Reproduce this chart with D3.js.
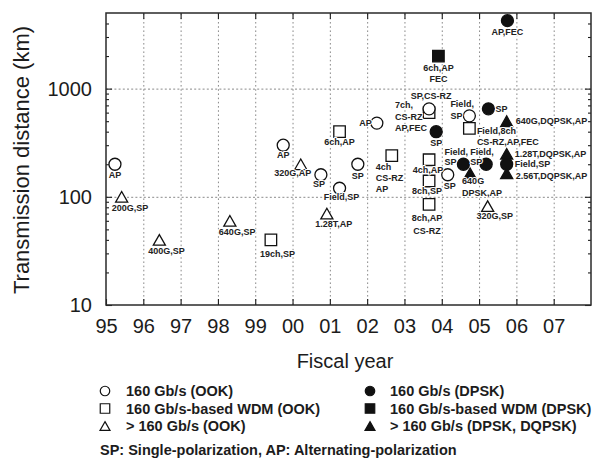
<!DOCTYPE html>
<html><head><meta charset="utf-8">
<script src="https://cdn.jsdelivr.net/npm/d3@7"></script>
<style>body{margin:0;background:#fff}svg{display:block}</style>
</head><body>
<svg id="c" width="600" height="459"></svg>
<script>
// ---------- data ----------
const yearTicks  = [1995,1996,1997,1998,1999,2000,2001,2002,2003,2004,2005,2006,2007];
const yearLabels = ["95","96","97","98","99","00","01","02","03","04","05","06","07"];
const kmTicks    = [10,100,1000];

// [fiscal year, distance km, label lines]
const ookSingle = [
  [1995.24, 200, ["AP"]],
  [1999.75, 300, ["AP"]],
  [2000.76, 160, ["SP"]],
  [2001.26, 120, ["Field,SP"]],
  [2001.75, 200, ["SP"]],
  [2002.26, 480, ["AP"]],
  [2003.66, 650, ["SP,CS-RZ"]],
  [2004.74, 560, ["Field,","SP"]],
  [2004.16, 160, ["SP"]]
];
const ookWdm = [
  [1999.42, 40,  ["19ch,SP"]],
  [2001.26, 400, ["6ch,AP"]],
  [2002.66, 240, ["4ch","CS-RZ","AP"]],
  [2003.66, 600, ["7ch,","CS-RZ","AP,FEC"]],
  [2003.66, 220, ["4ch,AP"]],
  [2003.66, 140, ["8ch,SP"]],
  [2003.66, 85,  ["8ch,AP","CS-RZ"]],
  [2004.74, 430, ["Field,8ch","CS-RZ,AP,FEC"]]
];
const ookHigh = [
  [1995.42, 100, ["200G,SP"]],
  [1996.43, 40,  ["400G,SP"]],
  [1998.32, 60,  ["640G,SP"]],
  [2000.22, 200, ["320G,AP"]],
  [2000.92, 70,  ["1.28T,AP"]],
  [2005.23, 82,  ["320G,SP"]]
];
const dpskSingle = [
  [2005.76, 4250, ["AP,FEC"]],
  [2003.85, 400,  ["SP"]],
  [2005.25, 650,  ["SP"]],
  [2004.58, 200,  ["Field,","SP"]],
  [2005.19, 200,  ["Field,","SP"]],
  [2005.74, 200,  ["Field,SP"]]
];
const dpskWdm = [
  [2003.91, 2000, ["6ch,AP","FEC"]]
];
const dpskHigh = [
  [2005.74, 500, ["640G,DQPSK,AP"]],
  [2005.74, 250, ["1.28T,DQPSK,AP"]],
  [2005.74, 165, ["2.56T,DQPSK,AP"]],
  [2004.76, 165, ["640G","DPSK,AP"]]
];

const legendLabels = [
  "160 Gb/s (OOK)", "160 Gb/s-based WDM (OOK)", "> 160 Gb/s (OOK)",
  "160 Gb/s (DPSK)", "160 Gb/s-based WDM (DPSK)", "> 160 Gb/s (DPSK, DQPSK)"
];
const footnote = "SP: Single-polarization, AP: Alternating-polarization";

// ---------- label placement (anchor, dx, dy, line height) ----------
const place = {
  ookSingle: [["middle",0,14,11],["middle",0,13,11],["middle",-2,12,11],["middle",2,12,11],["middle",0,15,11],
              ["end",-5,3,11],["middle",2,-10,11],["start",-19,-9,12],["middle",2,14,11]],
  ookWdm: [["start",-11,17,11],["middle",0,13,11],["start",-16,14,11],["start",-34,-4.5,11.5],
           ["middle",-1,13,11],["middle",-2,12.5,11],["middle",-2,17,12.5],["start",7.5,6,11]],
  ookHigh: [["start",-10,14,11],["start",-11,14,11],["start",-11,14,11],["middle",-8,12,11],["middle",7,13,11],["middle",7,13,11]],
  dpskSingle: [["middle",0,14,11],["middle",0,14,11],["start",7,3,11],["start",-19,-9,10],["start",-16,-9,10],["start",8,3,11]],
  dpskWdm: [["middle",0,15,11]],
  dpskHigh: [["start",9,3,11],["start",8,3,11],["start",9,6,11],["start",-8,11,12]]
};

// ---------- chart ----------
const svg = d3.select("#c");
const L = 106, R = 591, T = 13, B = 305;
const x = d3.scaleLinear().domain([1995, 2008]).range([L, R]);
const y = d3.scaleLog().domain([10, 5000]).range([B, T]);
const font = "'Liberation Sans', Arial, Helvetica, sans-serif";
const ink = "#1c1c1c";

// grid
const gx = svg.append("g").attr("transform", `translate(0,${B})`)
  .call(d3.axisBottom(x).tickValues(yearTicks.slice(1)).tickSize(-(B - T)).tickFormat(""));
gx.select(".domain").remove();
gx.selectAll("line").attr("stroke", "#8a8a8a").attr("stroke-dasharray", "1.6,2.6");
const gy = svg.append("g").attr("transform", `translate(${L},0)`)
  .call(d3.axisLeft(y).tickValues([100, 1000]).tickSize(-(R - L)).tickFormat(""));
gy.select(".domain").remove();
gy.selectAll("line").attr("stroke", "#8a8a8a").attr("stroke-dasharray", "2,2.2");

// minor log ticks
const minor = [];
[10, 100, 1000].forEach(d => { for (let k = 2; k <= 9; k++) if (d * k < 5000) minor.push(d * k); });

function styleAxis(g) {
  g.select(".domain").remove();
  g.selectAll("line").attr("stroke", ink).attr("stroke-width", 1.1);
  g.selectAll("text").attr("font-family", font).attr("fill", ink);
}

// bottom axis with labels
svg.append("g").attr("transform", `translate(0,${B})`)
  .call(d3.axisBottom(x).tickValues(yearTicks).tickFormat((d, i) => yearLabels[i])
        .tickSizeInner(-6).tickSizeOuter(0).tickPadding(14))
  .call(styleAxis).selectAll("text").attr("font-size", 20);
// top ticks
svg.append("g").attr("transform", `translate(0,${T})`)
  .call(d3.axisTop(x).tickValues(yearTicks.slice(1)).tickFormat("").tickSizeInner(-6).tickSizeOuter(0))
  .call(styleAxis);
// left axis
svg.append("g").attr("transform", `translate(${L},0)`)
  .call(d3.axisLeft(y).tickValues(kmTicks).tickFormat(d3.format("d"))
        .tickSizeInner(-6).tickSizeOuter(0).tickPadding(14))
  .call(styleAxis).selectAll("text").attr("font-size", 20);
svg.append("g").attr("transform", `translate(${L},0)`)
  .call(d3.axisLeft(y).tickValues(minor).tickFormat("").tickSizeInner(-3).tickSizeOuter(0))
  .call(styleAxis);
// right axis
svg.append("g").attr("transform", `translate(${R},0)`)
  .call(d3.axisRight(y).tickValues(kmTicks).tickFormat("").tickSizeInner(-6).tickSizeOuter(0))
  .call(styleAxis);
svg.append("g").attr("transform", `translate(${R},0)`)
  .call(d3.axisRight(y).tickValues(minor).tickFormat("").tickSizeInner(-3).tickSizeOuter(0))
  .call(styleAxis);

// frame
svg.append("rect").attr("x", L).attr("y", T).attr("width", R - L).attr("height", B - T)
  .attr("fill", "none").attr("stroke", "#2a2a2a").attr("stroke-width", 1.5);

// axis titles
svg.append("text").attr("x", 345).attr("y", 367.5).attr("text-anchor", "middle")
  .attr("font-family", font).attr("font-size", 20).attr("fill", ink).text("Fiscal year");
svg.append("text").attr("transform", "translate(29,160) rotate(-90)").attr("text-anchor", "middle")
  .attr("font-family", font).attr("font-size", 22).attr("fill", ink).text("Transmission distance (km)");

// markers
function markerPath(shape, s) {
  if (shape === "circle") return d3.symbol().type(d3.symbolCircle).size(Math.PI * s * s / 4)();
  if (shape === "square") return `M${-s/2},${-s/2}h${s}v${s}h${-s}Z`;
  const w = s * 1.05, h = s * 0.92;
  return `M0,${-h/2}L${w/2},${h/2}L${-w/2},${h/2}Z`;
}
const seriesDefs = [
  {data: ookWdm,     key: "ookWdm",     shape: "square",   filled: false, size: 11.5},
  {data: dpskWdm,    key: "dpskWdm",    shape: "square",   filled: true,  size: 11.5},
  {data: ookSingle,  key: "ookSingle",  shape: "circle",   filled: false, size: 12},
  {data: ookHigh,    key: "ookHigh",    shape: "triangle", filled: false, size: 11.5},
  {data: dpskSingle, key: "dpskSingle", shape: "circle",   filled: true,  size: 12},
  {data: dpskHigh,   key: "dpskHigh",   shape: "triangle", filled: true,  size: 11.5}
];

const labelLayer = [];
seriesDefs.forEach(sd => {
  svg.append("g").selectAll("path").data(sd.data).join("path")
    .attr("transform", d => `translate(${x(d[0])},${y(d[1])})`)
    .attr("d", markerPath(sd.shape, sd.size))
    .attr("fill", sd.filled ? "#111" : "#fff")
    .attr("stroke", "#111").attr("stroke-width", 1.3);
  sd.data.forEach((d, i) => labelLayer.push({d, p: place[sd.key][i]}));
});

const lg = svg.append("g").attr("font-family", font).attr("font-weight", "bold")
  .attr("font-size", 9).attr("fill", "#222");
labelLayer.forEach(({d, p}) => {
  const [anchor, dx, dy, lh] = p;
  d[2].forEach((line, j) => {
    lg.append("text").attr("x", x(d[0]) + dx).attr("y", y(d[1]) + dy + j * lh)
      .attr("text-anchor", anchor)
      .attr("stroke", "#fff").attr("stroke-width", 2).attr("paint-order", "stroke")
      .attr("stroke-linejoin", "round").text(line);
  });
});

// legend
const legendShapes = ["circle", "square", "triangle", "circle", "square", "triangle"];
const rowsY = [391, 408.5, 426];
legendLabels.forEach((t, i) => {
  const col = Math.floor(i / 3), row = i % 3;
  const mx = col ? 370 : 105, tx = col ? 390 : 126;
  svg.append("path").attr("transform", `translate(${mx},${rowsY[row]})`)
    .attr("d", markerPath(legendShapes[i], 9.5))
    .attr("fill", col ? "#111" : "#fff").attr("stroke", "#111").attr("stroke-width", 1.2);
  svg.append("text").attr("x", tx).attr("y", rowsY[row] + 5.2)
    .attr("font-family", font).attr("font-weight", "bold").attr("font-size", 14.5)
    .attr("fill", ink).text(t);
});
svg.append("text").attr("x", 100).attr("y", 455)
  .attr("font-family", font).attr("font-weight", "bold").attr("font-size", 14.5)
  .attr("fill", ink).text(footnote);
</script>
</body></html>
